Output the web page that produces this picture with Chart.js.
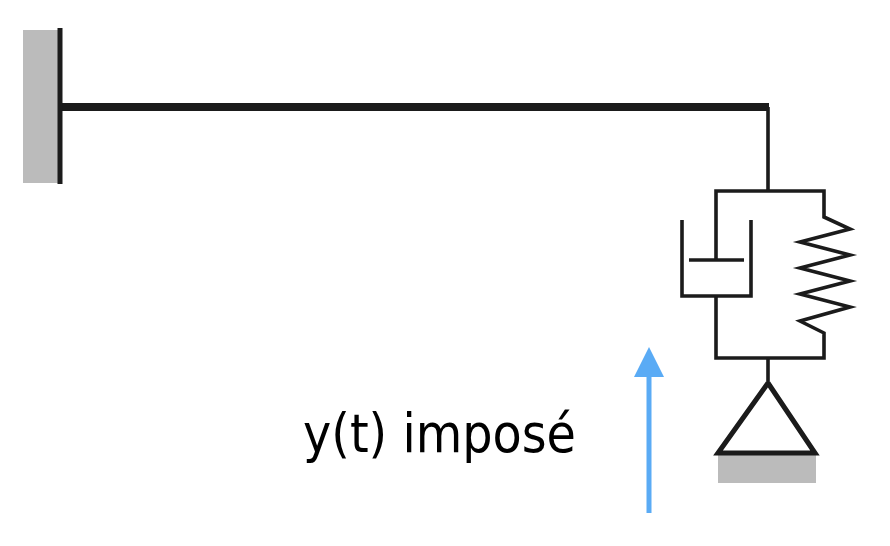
<!DOCTYPE html>
<html>
<head>
<meta charset="utf-8">
<script src="https://cdn.jsdelivr.net/npm/chart.js@4.4.1/dist/chart.umd.min.js"></script>
<style>
html,body{margin:0;padding:0;background:#fff;}
#wrap{width:890px;height:546px;position:relative;}
</style>
</head>
<body>
<div id="wrap"><canvas id="c"></canvas></div>
<script>
// Diagram geometry (picture coordinates, y downward)
const wallBlock = [[23,30],[60,30]];          // grey wall, filled down to wallBottom
const wallBottom = 183;
const groundBlock = [[718,453],[816,453]];    // grey ground, filled down to groundBottom
const groundBottom = 483;
const wallLine = [[60,28],[60,184]];
const beam = [[60,107],[769,107]];
const rodTop = [[768,107],[768,191]];
const kelvinLoop = [[716,260],[716,191],[824,191],[824,217],[850,229],[800,242],[850,255],[800,268],[850,281],[800,294],[850,307],[800,321],[824,333],[824,358],[716,358],[716,296]];
const cylinder = [[682,220],[682,296],[751,296],[751,220]];
const piston = [[689,260],[744,260]];
const rodBottom = [[768,358],[768,383]];
const support = [[768,383],[718,453],[815,453],[768,383]];
const arrowShaft = [[649,513],[649,374]];
const arrowHead = [[634,377],[649,347],[664,377]];
const labelText = "y(t) imposé";
const labelPos = [303,452];

const BLACK = '#1b1b1b', GREY = '#bbbbbb', BLUE = '#5aabf5';
const pts = a => a.map(p => ({x:p[0], y:p[1]}));
function lineDs(a, w, color){
  return {type:'line', data:pts(a), borderColor:color||BLACK, borderWidth:w, pointRadius:0,
    fill:false, tension:0, borderJoinStyle:'miter', borderCapStyle:'butt', order:1};
}
function fillDs(a, bottom, color, order){
  return {type:'line', data:pts(a), borderColor:color, borderWidth:0, backgroundColor:color,
    pointRadius:0, fill:{value:bottom}, tension:0, order:order};
}
const datasets = [
  fillDs(wallBlock, wallBottom, GREY, 10),
  fillDs(groundBlock, groundBottom, GREY, 10),
  lineDs(wallLine, 5),
  lineDs(beam, 8),
  lineDs(rodTop, 3.6),
  lineDs(kelvinLoop, 3.6),
  lineDs(cylinder, 3.6),
  lineDs(piston, 3.6),
  lineDs(rodBottom, 3.6),
  lineDs(support, 5),
  lineDs(arrowShaft, 5, BLUE),
  fillDs(arrowHead, 377, BLUE, 0)
];
const labelPlugin = {
  id:'label',
  afterDatasetsDraw(chart){
    const {ctx, scales:{x,y}} = chart;
    ctx.save();
    ctx.fillStyle = '#000';
    ctx.font = '54px "DejaVu Sans"';
    ctx.textBaseline = 'alphabetic';
    ctx.textAlign = 'left';
    const px = x.getPixelForValue(labelPos[0]), py = y.getPixelForValue(labelPos[1]);
    ctx.fillText(labelText, px, py, x.getPixelForValue(576)-px);
    ctx.restore();
  }
};
new Chart(document.getElementById('c'), {
  type:'scatter',
  data:{datasets},
  options:{
    responsive:true, maintainAspectRatio:false, animation:false,
    layout:{padding:0},
    plugins:{legend:{display:false}, tooltip:{enabled:false}},
    scales:{
      x:{type:'linear', min:0, max:890, display:false},
      y:{type:'linear', min:0, max:546, reverse:true, display:false}
    }
  },
  plugins:[labelPlugin]
});
</script>
</body>
</html>
